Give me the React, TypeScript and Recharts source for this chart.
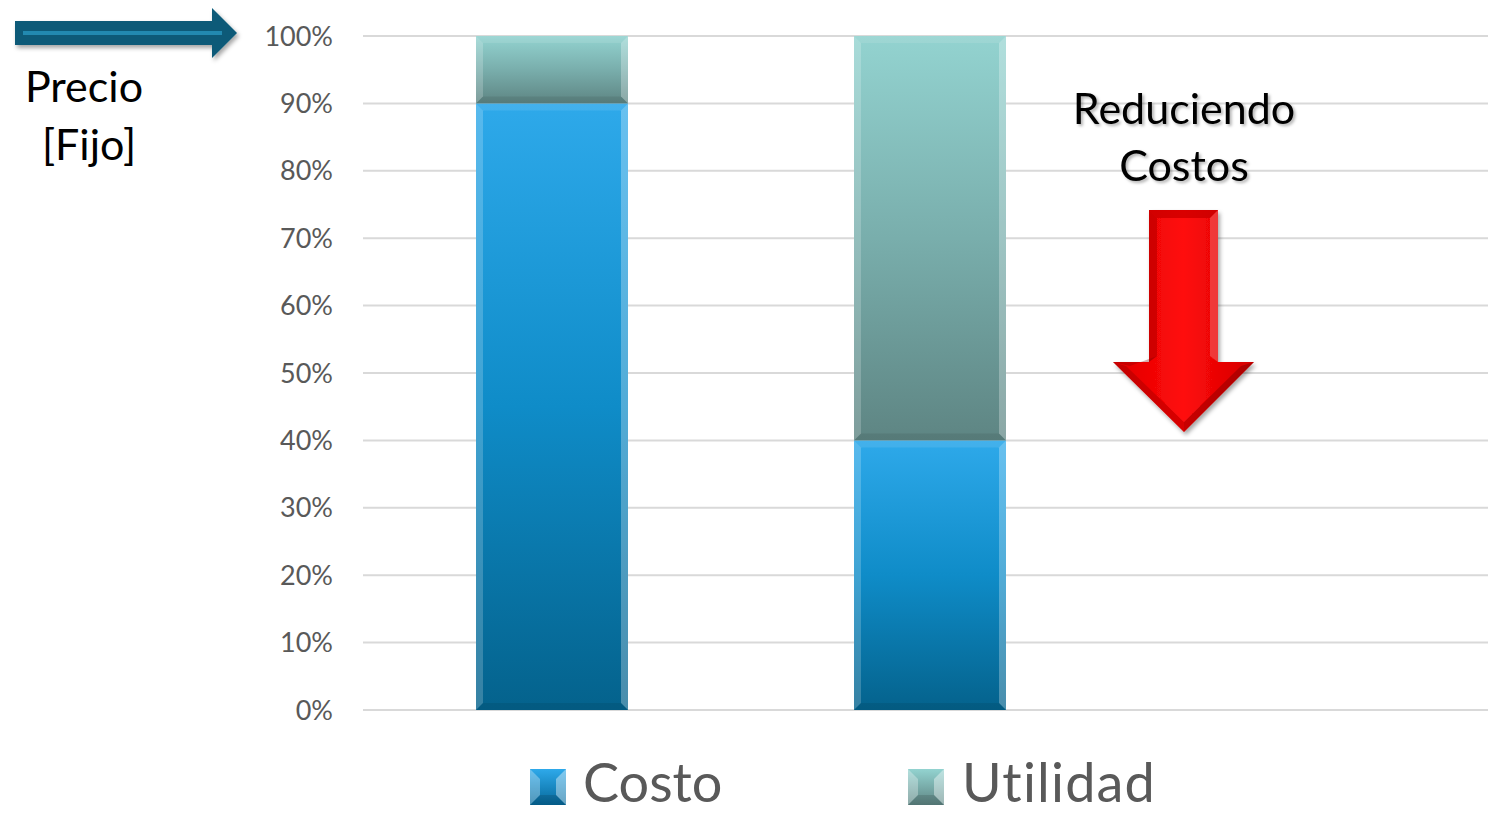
import React from "react"
import { BarChart, Bar, XAxis, YAxis, CartesianGrid } from "recharts"

const categories = ["Antes", "Después", ""]
const costo = [90, 40, 0]
const utilidad = [10, 60, 0]
const yTicks = [0, 10, 20, 30, 40, 50, 60, 70, 80, 90, 100]

const data = categories.map((name, i) => ({ name, costo: costo[i], utilidad: utilidad[i] }))

const FONT = "Lato, 'Open Sans', sans-serif"

// beveled bar segment, like the office "soft edge" style
function BevelBar(props: any) {
  const { x, y, width, height, gradId } = props
  if (!height || height <= 0) return null
  const b = Math.min(7, height / 2)
  return (
    <g>
      <rect x={x} y={y} width={width} height={height} fill={`url(#${gradId})`} />
      <polygon
        points={`${x},${y} ${x + b},${y + b} ${x + b},${y + height - b} ${x},${y + height}`}
        fill="#ffffff"
        opacity={0.2}
      />
      <polygon
        points={`${x + width},${y} ${x + width - b},${y + b} ${x + width - b},${y + height - b} ${x + width},${y + height}`}
        fill="#ffffff"
        opacity={0.28}
      />
      <polygon
        points={`${x},${y} ${x + width},${y} ${x + width - b},${y + b} ${x + b},${y + b}`}
        fill="#ffffff"
        opacity={0.1}
      />
      <polygon
        points={`${x},${y + height} ${x + width},${y + height} ${x + width - b},${y + height - b} ${x + b},${y + height - b}`}
        fill="#000000"
        opacity={0.08}
      />
    </g>
  )
}

function LegendMark({ x, y, gradId }: { x: number; y: number; gradId: string }) {
  const s = 36
  const b = 10
  return (
    <g>
      <rect x={x} y={y} width={s} height={s} fill={`url(#${gradId})`} />
      <polygon points={`${x},${y} ${x + b},${y + b} ${x + b},${y + s - b} ${x},${y + s}`} fill="#fff" opacity={0.3} />
      <polygon points={`${x + s},${y} ${x + s - b},${y + b} ${x + s - b},${y + s - b} ${x + s},${y + s}`} fill="#fff" opacity={0.4} />
      <polygon points={`${x},${y + s} ${x + s},${y + s} ${x + s - b},${y + s - b} ${x + b},${y + s - b}`} fill="#000" opacity={0.12} />
    </g>
  )
}

export default function App() {
  return (
    <div
      style={{
        position: "absolute",
        left: 0,
        top: 0,
        width: 1488,
        height: 814,
        overflow: "hidden",
        fontFamily: FONT,
        fontVariantLigatures: "none",
        background: "#fff",
      }}
    >
      <BarChart
        width={1497}
        height={814}
        data={data}
        margin={{ top: 36, right: 0, left: 0, bottom: 104 }}
        barSize={152}
      >
        <defs>
          <linearGradient id="gradCosto" x1="0" y1="0" x2="0" y2="1">
            <stop offset="0%" stopColor="#2ea9ea" />
            <stop offset="50%" stopColor="#0f8cc8" />
            <stop offset="100%" stopColor="#04628c" />
          </linearGradient>
          <linearGradient id="gradUtil" x1="0" y1="0" x2="0" y2="1">
            <stop offset="0%" stopColor="#93d3d0" />
            <stop offset="50%" stopColor="#79aeac" />
            <stop offset="100%" stopColor="#5e8583" />
          </linearGradient>
        </defs>
        <CartesianGrid vertical={false} stroke="#d9d9d9" strokeWidth={2} />
        <XAxis dataKey="name" hide />
        <YAxis
          width={363}
          domain={[0, 100]}
          ticks={yTicks}
          tickFormatter={(v: number) => `${v}%`}
          axisLine={false}
          tickLine={false}
          tickSize={0}
          tickMargin={30}
          tick={{ fill: "#595959", fontSize: 27, fontFamily: FONT }}
        />
        <Bar dataKey="costo" stackId="a" isAnimationActive={false} shape={(p: any) => <BevelBar {...p} gradId="gradCosto" />} />
        <Bar dataKey="utilidad" stackId="a" isAnimationActive={false} shape={(p: any) => <BevelBar {...p} gradId="gradUtil" />} />
      </BarChart>

      <svg
        width={1488}
        height={814}
        style={{ position: "absolute", left: 0, top: 0, pointerEvents: "none" }}
        fontFamily={FONT}
      >
        <defs>
          <filter id="shadow" x="-20%" y="-20%" width="140%" height="160%">
            <feDropShadow dx="2" dy="3" stdDeviation="2" floodColor="#000" floodOpacity="0.35" />
          </filter>
          <filter id="txtShadow" x="-10%" y="-20%" width="120%" height="140%">
            <feDropShadow dx="2" dy="2" stdDeviation="1.5" floodColor="#000" floodOpacity="0.3" />
          </filter>
          <linearGradient id="gradCostoL" x1="0" y1="0" x2="0" y2="1">
            <stop offset="0%" stopColor="#2ea9ea" />
            <stop offset="100%" stopColor="#05689a" />
          </linearGradient>
          <linearGradient id="gradUtilL" x1="0" y1="0" x2="0" y2="1">
            <stop offset="0%" stopColor="#93d3d0" />
            <stop offset="100%" stopColor="#5e8583" />
          </linearGradient>
          <linearGradient id="gradRed" x1="0" y1="0" x2="1" y2="0">
            <stop offset="0%" stopColor="#e00000" />
            <stop offset="50%" stopColor="#ff0a0a" />
            <stop offset="100%" stopColor="#d40000" />
          </linearGradient>
        </defs>

        {/* price arrow */}
        <g filter="url(#shadow)">
          <polygon points="15,21 212,21 212,8 237,33 212,58 212,45 15,45" fill="#0b5a78" />
          <line x1={23} y1={33} x2={222} y2={33} stroke="#2289b0" strokeWidth={4} />
        </g>
        <text x={84} y={102} textAnchor="middle" fontSize={43} fill="#000">Precio</text>
        <text x={89} y={160} textAnchor="middle" fontSize={43} fill="#000">[Fijo]</text>

        {/* reducing costs */}
        <g filter="url(#txtShadow)">
          <text x={1184} y={124} textAnchor="middle" fontSize={43} fill="#000">Reduciendo</text>
          <text x={1184} y={181} textAnchor="middle" fontSize={43} fill="#000">Costos</text>
        </g>
        <g filter="url(#shadow)">
          <polygon points="1149,210 1218,210 1218,362 1254,362 1184,432 1113,362 1149,362" fill="url(#gradRed)" />
          <polygon points="1149,210 1218,210 1210,218 1157,218" fill="#b30000" opacity={0.5} />
          <polygon points="1149,210 1157,218 1157,356 1149,362" fill="#900000" opacity={0.35} />
          <polygon points="1218,210 1210,218 1210,356 1218,362" fill="#ffffff" opacity={0.2} />
          <polygon points="1113,362 1149,362 1157,356 1130,366" fill="#800000" opacity={0.3} />
          <polygon points="1184,432 1113,362 1126,366 1184,422" fill="#800000" opacity={0.3} />
          <polygon points="1184,432 1254,362 1241,366 1184,422" fill="#600000" opacity={0.35} />
        </g>

        {/* legend */}
        <LegendMark x={530} y={769} gradId="gradCostoL" />
        <text x={583} y={802} fontSize={54} fill="#595959">Costo</text>
        <LegendMark x={908} y={769} gradId="gradUtilL" />
        <text x={962} y={802} fontSize={54} fill="#595959" letterSpacing={1.2}>Utilidad</text>
      </svg>
    </div>
  )
}
